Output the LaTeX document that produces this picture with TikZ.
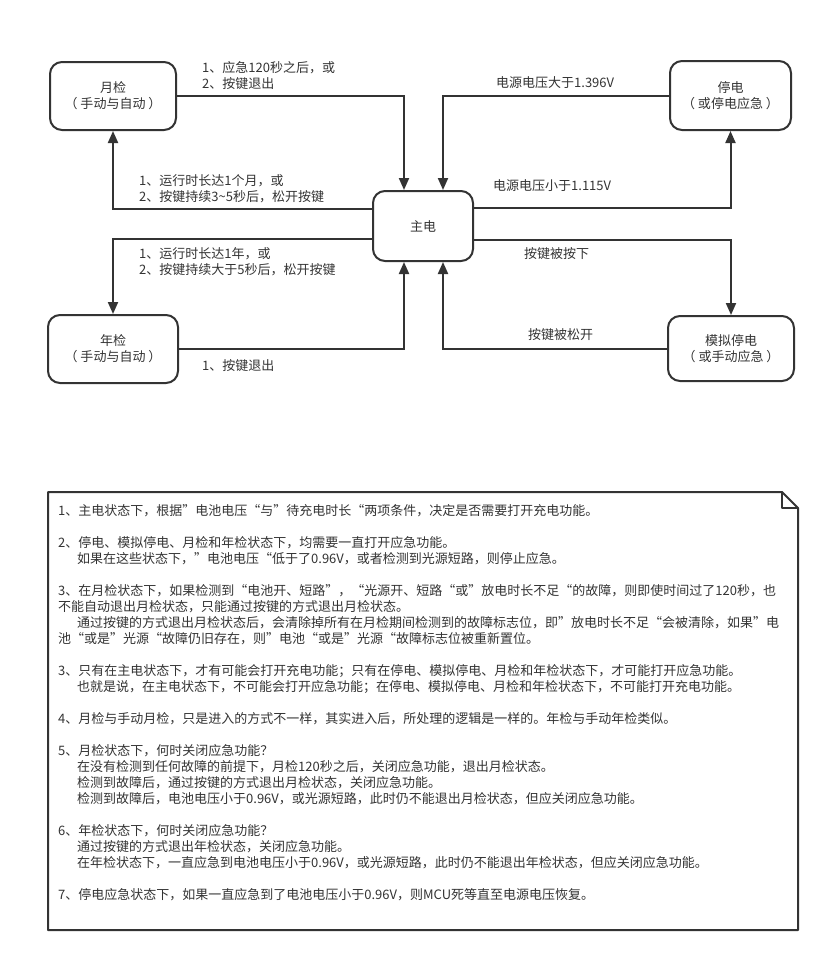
\documentclass[tikz,border=0pt]{standalone}
\usepackage{fontspec}
\setmainfont{Noto Sans CJK SC}
\usetikzlibrary{arrows.meta}
\definecolor{ink}{HTML}{333333}
\tikzset{
	state/.style={draw=ink, line width=2pt, rounded corners=12pt, align=center, text=ink, inner sep=0pt, font=\fontsize{13}{16}\selectfont},
	trans/.style={draw=ink, line width=2pt, -{Triangle[length=12pt,width=10pt]}},
	lbl/.style={anchor=west, align=left, text=ink, inner sep=0pt, font=\fontsize{13}{16}\selectfont},
	notetext/.style={anchor=base west, text=ink, inner sep=0pt, font=\fontsize{13}{16}\selectfont}
}
\begin{document}
\begin{tikzpicture}[x=1pt, y=-1pt]
	\useasboundingbox (0,0) rectangle (830,962);
	\node[state, minimum width=126pt, minimum height=68pt] (yuejian)  at (113,96)    {月检\\（ 手动与自动 ）};
	\node[state, minimum width=121pt, minimum height=69pt] (tingdian) at (730.5,95.5) {停电\\（ 或停电应急 ）};
	\node[state, minimum width=100pt, minimum height=70pt] (zhudian)  at (423,226)   {主电};
	\node[state, minimum width=130pt, minimum height=68pt] (nianjian) at (113,349)   {年检\\（ 手动与自动 ）};
	\node[state, minimum width=126pt, minimum height=65pt] (moni)     at (731,348.5) {模拟停电\\（ 或手动应急 ）};

	\draw[trans] (yuejian.east) -| ([xshift=-19pt]zhudian.north);
	\draw[trans] (tingdian.west) -| ([xshift=20pt]zhudian.north);
	\draw[trans] ([yshift=18pt]zhudian.east) -| (tingdian.south);
	\draw[trans] ([yshift=17pt]zhudian.west) -| (yuejian.south);
	\draw[trans] ([yshift=-13pt]zhudian.west) -| (nianjian.north);
	\draw[trans] (nianjian.east) -| ([xshift=-19pt]zhudian.south);
	\draw[trans] ([yshift=-14pt]zhudian.east) -| (moni.north);
	\draw[trans] (moni.west) -| ([xshift=20pt]zhudian.south);

	\node[lbl] (lyz) at (202,76)  {1、应急120秒之后，或\\2、按键退出};
	\node[lbl] (ltz) at (496,83)  {电源电压大于1.396V};
	\node[lbl] (lzt) at (493,186) {电源电压小于1.115V};
	\node[lbl] (lzy) at (139,189) {1、运行时长达1个月，或\\2、按键持续3\textasciitilde5秒后，松开按键};
	\node[lbl] (lzn) at (139,262) {1、运行时长达1年，或\\2、按键持续大于5秒后，松开按键};
	\node[lbl] (lnz) at (202,366) {1、按键退出};
	\node[lbl] (lzm) at (524,254) {按键被按下};
	\node[lbl] (lmz) at (528,335) {按键被松开};

	\draw[ink, line width=2pt, line join=round] (48,492) -- (782,492) -- (798,508) -- (798,930) -- (48,930) -- cycle;
	\draw[ink, line width=2pt, line join=round] (782,492) -- (782,508) -- (798,508);

	\node[notetext] (t1)  at (58,515) {1、主电状态下，根据”电池电压“与”待充电时长“两项条件，决定是否需要打开充电功能。};
	\node[notetext] (t2)  at (58,547) {2、停电、模拟停电、月检和年检状态下，均需要一直打开应急功能。};
	\node[notetext] (t3)  at (77,563) {如果在这些状态下，”电池电压“低于了0.96V，或者检测到光源短路，则停止应急。};
	\node[notetext] (t4)  at (58,595) {3、在月检状态下，如果检测到“电池开、短路”，“光源开、短路“或”放电时长不足“的故障，则即使时间过了120秒，也};
	\node[notetext] (t5)  at (58,611) {不能自动退出月检状态，只能通过按键的方式退出月检状态。};
	\node[notetext] (t6)  at (77,627) {通过按键的方式退出月检状态后，会清除掉所有在月检期间检测到的故障标志位，即”放电时长不足“会被清除，如果”电};
	\node[notetext] (t7)  at (58,643) {池“或是”光源“故障仍旧存在，则”电池“或是”光源“故障标志位被重新置位。};
	\node[notetext] (t8)  at (58,675) {3、只有在主电状态下，才有可能会打开充电功能；只有在停电、模拟停电、月检和年检状态下，才可能打开应急功能。};
	\node[notetext] (t9)  at (77,691) {也就是说，在主电状态下，不可能会打开应急功能；在停电、模拟停电、月检和年检状态下，不可能打开充电功能。};
	\node[notetext] (t10) at (58,723) {4、月检与手动月检，只是进入的方式不一样，其实进入后，所处理的逻辑是一样的。年检与手动年检类似。};
	\node[notetext] (t11) at (58,755) {5、月检状态下，何时关闭应急功能？};
	\node[notetext] (t12) at (77,771) {在没有检测到任何故障的前提下，月检120秒之后，关闭应急功能，退出月检状态。};
	\node[notetext] (t13) at (77,787) {检测到故障后，通过按键的方式退出月检状态，关闭应急功能。};
	\node[notetext] (t14) at (77,803) {检测到故障后，电池电压小于0.96V，或光源短路，此时仍不能退出月检状态，但应关闭应急功能。};
	\node[notetext] (t15) at (58,835) {6、年检状态下，何时关闭应急功能？};
	\node[notetext] (t16) at (77,851) {通过按键的方式退出年检状态，关闭应急功能。};
	\node[notetext] (t17) at (77,867) {在年检状态下，一直应急到电池电压小于0.96V，或光源短路，此时仍不能退出年检状态，但应关闭应急功能。};
	\node[notetext] (t18) at (58,899) {7、停电应急状态下，如果一直应急到了电池电压小于0.96V，则MCU死等直至电源电压恢复。};
\end{tikzpicture}
\end{document}
